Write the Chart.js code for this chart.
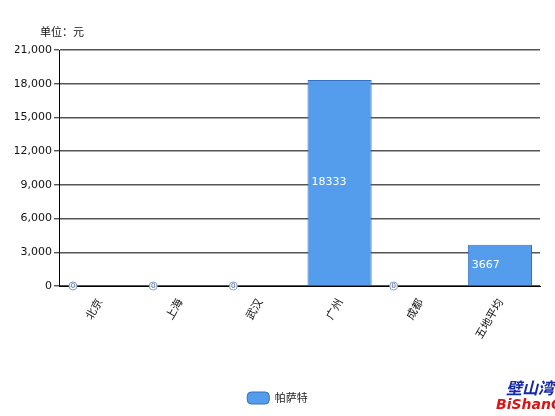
<!DOCTYPE html>
<html>
<head>
<meta charset="utf-8">
<script src="https://cdn.jsdelivr.net/npm/chart.js@4/dist/chart.umd.min.js"></script>
<style>
  html, body { margin: 0; padding: 0; background: #fff; }
  #wrap { width: 555px; height: 416px; }
</style>
</head>
<body>
<div id="wrap"><canvas id="c" width="555" height="416"></canvas></div>
<script>
// Cities and the value for each one (unit: yuan)
const categories = ['北京', '上海', '武汉', '广州', '成都', '五地平均'];
const seriesName = '帕萨特';
const seriesValues = [0, 0, 0, 18333, 0, 3667];
const yTickValues = [0, 3000, 6000, 9000, 12000, 15000, 18000, 21000];
const unitLabel = '单位：元';

const FONT = '"DejaVu Sans", "Noto Sans CJK SC", sans-serif';
const CJK = '"Noto Sans CJK SC", "DejaVu Sans", sans-serif';
const BAR = 'rgb(84,157,236)';
const BAR_EDGE = 'rgb(52,112,190)';

// Value labels inside each bar, unit caption and site mark
const overlay = {
  id: 'overlay',
  afterDatasetsDraw(chart) {
    const ctx = chart.ctx;
    const meta = chart.getDatasetMeta(0);
    ctx.save();
    meta.data.forEach((bar, i) => {
      const v = seriesValues[i];
      const left = bar.x - bar.width / 2;
      if (v === 0) {
        const cx = left + 6, cy = bar.base;
        ctx.beginPath();
        ctx.arc(cx, cy, 4, 0, Math.PI * 2);
        ctx.fillStyle = 'rgba(255,255,255,0.9)';
        ctx.fill();
        ctx.lineWidth = 1;
        ctx.strokeStyle = 'rgb(120,160,210)';
        ctx.stroke();
        ctx.fillStyle = 'rgb(90,110,140)';
        ctx.font = '7px ' + FONT;
        ctx.textAlign = 'center';
        ctx.textBaseline = 'middle';
        ctx.fillText(String(v), cx, cy + 0.5);
      } else {
        ctx.fillStyle = '#fff';
        ctx.font = '11px ' + FONT;
        ctx.textAlign = 'left';
        ctx.textBaseline = 'middle';
        ctx.fillText(String(v), left + 4, (bar.y + bar.base) / 2);
      }
    });
    const area = chart.chartArea;
    ctx.fillStyle = '#111';
    ctx.font = '11px ' + CJK;
    ctx.textAlign = 'left';
    ctx.textBaseline = 'middle';
    ctx.fillText(unitLabel, area.left - 19, area.top - 18);

    ctx.font = 'italic bold 16px ' + CJK;
    ctx.fillStyle = 'rgb(20,40,170)';
    ctx.fillText('壁山湾', 506, 388);
    ctx.font = 'italic bold 14px ' + FONT;
    ctx.fillStyle = 'rgb(220,20,20)';
    ctx.fillText('BiShanCar', 496, 405);
    ctx.restore();
  }
};

new Chart(document.getElementById('c'), {
  type: 'bar',
  data: {
    labels: categories,
    datasets: [{
      label: seriesName,
      data: seriesValues,
      backgroundColor: BAR,
      borderColor: BAR_EDGE,
      borderWidth: 1,
      barPercentage: 0.8,
      categoryPercentage: 1.0
    }]
  },
  options: {
    responsive: false,
    animation: false,
    devicePixelRatio: 1,
    layout: { padding: { top: 50, right: 15, left: 15, bottom: 2 } },
    plugins: {
      legend: {
        position: 'bottom',
        labels: {
          boxWidth: 22,
          boxHeight: 12,
          useBorderRadius: true,
          borderRadius: 4,
          color: '#222',
          font: { family: CJK, size: 11 },
          padding: 8
        }
      },
      tooltip: { enabled: false },
      title: { display: false }
    },
    scales: {
      x: {
        grid: { display: false },
        border: { display: true, color: '#000', width: 1 },
        ticks: {
          minRotation: 60,
          maxRotation: 60,
          padding: 2,
          color: '#111',
          font: { family: CJK, size: 11 }
        },
        afterFit(scale) { scale.height = 98; }
      },
      y: {
        min: 0,
        max: 21000,
        afterBuildTicks(scale) { scale.ticks = yTickValues.map(v => ({ value: v })); },
        grid: { color: '#555', lineWidth: 1.4, drawTicks: true, tickLength: 5 },
        border: { display: true, color: '#000', width: 1 },
        ticks: {
          color: '#111',
          padding: 2,
          font: { family: FONT, size: 11 },
          callback: v => v.toLocaleString('en-US')
        },
        afterFit(scale) { scale.width = 44; }
      }
    }
  },
  plugins: [overlay]
});
</script>
</body>
</html>
